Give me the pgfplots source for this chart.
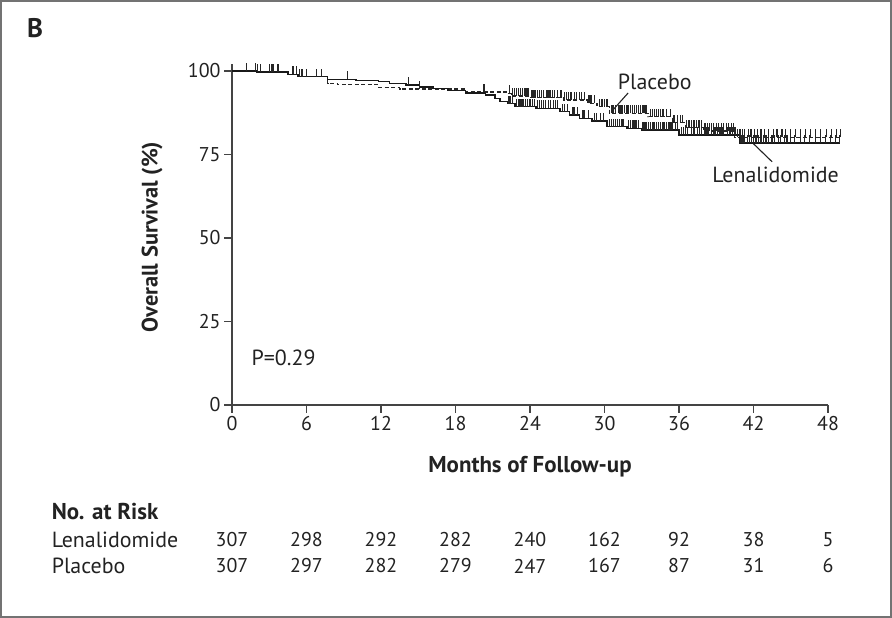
\documentclass[border=0pt]{standalone}
\usepackage{fontspec}
\setmainfont{PT Sans}
\usepackage{pgfplots}
\pgfplotsset{compat=1.18}
\usepackage{pgfplotstable}

\pgfdeclareplotmark{cens}{\pgfpathmoveto{\pgfpointorigin}\pgfpathlineto{\pgfpoint{0pt}{8bp}}\pgfusepathqstroke}

% Kaplan-Meier step points (month, survival %)
\pgfplotstableread{
x y
0 100
2.0 99.7
4.5 99.0
5.3 98.3
7.7 97.5
10.0 97.2
11.8 96.8
12.7 96.3
14.0 95.8
15.1 95.2
16.2 94.7
17.4 94.2
18.8 93.4
20.4 92.8
21.2 91.8
21.6 90.8
22.2 90.2
22.8 89.3
24.5 88.8
26.4 87.8
27.2 86.8
28.0 85.8
29.0 85.0
30.2 83.3
31.8 82.8
33.0 82.3
36.0 80.8
40.9 78.4
49.0 78.4
}\lenaline

\pgfplotstableread{
x y
0 100
2.0 99.7
4.5 99.0
5.3 98.3
7.7 96.3
8.5 95.9
11.8 95.1
13.5 94.6
18.8 93.7
22.3 93.3
22.5 92.5
24.0 92.0
26.7 91.3
28.6 90.3
29.4 89.3
30.4 87.3
33.5 86.3
35.5 84.5
36.5 83.0
38.0 82.0
40.5 80.2
49.0 80.2
}\placline

% censoring ticks
\pgfplotstableread{
x y
1.15 100
1.88 100
2.04 99.7
2.31 99.7
3.04 99.7
3.17 99.7
3.30 99.7
3.70 99.7
4.91 99.0
5.18 99.0
5.45 98.3
5.64 98.3
5.98 98.3
6.79 98.3
7.19 98.3
9.3 97.5
14.2 95.8
22.3 90.2
22.45 90.2
22.6 90.2
22.9 89.3
23.05 89.3
23.2 89.3
23.35 89.3
23.5 89.3
23.65 89.3
23.8 89.3
24.0 89.3
24.2 89.3
24.35 89.3
24.6 88.8
24.75 88.8
24.9 88.8
25.1 88.8
25.25 88.8
25.5 88.8
25.65 88.8
25.9 88.8
26.05 88.8
26.2 88.8
26.6 87.8
26.75 87.8
27.0 87.8
27.4 86.8
27.55 86.8
27.8 86.8
28.2 85.8
28.35 85.8
28.7 85.8
29.2 85.0
29.35 85.0
29.7 85.0
29.9 85.0
30.4 83.3
30.55 83.3
30.7 83.3
30.9 83.3
31.05 83.3
31.2 83.3
31.35 83.3
31.5 83.3
31.95 82.8
32.1 82.8
32.3 82.8
32.45 82.8
32.6 82.8
32.75 82.8
33.1 82.3
33.25 82.3
33.4 82.3
33.55 82.3
33.7 82.3
33.9 82.3
34.05 82.3
34.2 82.3
34.35 82.3
34.5 82.3
34.7 82.3
34.85 82.3
35.0 82.3
35.2 82.3
35.35 82.3
35.5 82.3
35.7 82.3
35.85 82.3
36.2 80.8
36.35 80.8
36.5 80.8
36.7 80.8
37.0 80.8
37.2 80.8
37.5 80.8
37.65 80.8
37.8 80.8
38.1 80.8
38.25 80.8
38.4 80.8
38.6 80.8
38.75 80.8
38.9 80.8
39.1 80.8
39.3 80.8
39.45 80.8
39.6 80.8
39.9 80.8
40.1 80.8
40.3 80.8
40.5 80.8
41.0 78.4
41.15 78.4
41.3 78.4
41.5 78.4
41.7 78.4
41.85 78.4
42.0 78.4
42.2 78.4
42.4 78.4
42.6 78.4
42.8 78.4
43.0 78.4
43.2 78.4
43.5 78.4
43.7 78.4
44.0 78.4
44.2 78.4
44.5 78.4
44.7 78.4
45.0 78.4
45.3 78.4
45.8 78.4
46.1 78.4
46.5 78.4
47.0 78.4
47.4 78.4
47.8 78.4
48.2 78.4
48.6 78.4
48.9 78.4
}\lenacens

\pgfplotstableread{
x y
15.1 94.6
20.3 93.7
22.35 93.3
22.6 92.5
22.75 92.5
22.9 92.5
23.1 92.5
23.25 92.5
23.4 92.5
23.6 92.5
23.75 92.5
23.9 92.5
24.1 92.0
24.25 92.0
24.4 92.0
24.6 92.0
24.75 92.0
24.9 92.0
25.1 92.0
25.3 92.0
25.45 92.0
25.6 92.0
25.8 92.0
26.0 92.0
26.2 92.0
26.5 92.0
26.8 91.3
26.95 91.3
27.1 91.3
27.3 91.3
27.6 91.3
27.75 91.3
28.0 91.3
28.15 91.3
28.4 91.3
28.75 90.3
28.9 90.3
29.2 90.3
29.6 89.3
29.8 89.3
30.0 89.3
30.2 89.3
30.6 87.3
30.75 87.3
30.9 87.3
31.1 87.3
31.25 87.3
31.4 87.3
31.6 87.3
31.75 87.3
31.9 87.3
32.1 87.3
32.25 87.3
32.4 87.3
32.6 87.3
32.75 87.3
32.9 87.3
33.1 87.3
33.25 87.3
33.4 87.3
33.7 86.3
33.85 86.3
34.0 86.3
34.2 86.3
34.35 86.3
34.5 86.3
34.7 86.3
35.0 86.3
35.3 86.3
35.6 84.5
35.9 84.5
36.1 84.5
36.3 84.5
36.6 83.0
36.8 83.0
37.0 83.0
37.2 83.0
37.4 83.0
37.6 83.0
37.8 83.0
38.1 82.0
38.3 82.0
38.45 82.0
38.6 82.0
38.8 82.0
39.0 82.0
39.2 82.0
39.4 82.0
39.6 82.0
39.8 82.0
40.0 82.0
40.2 82.0
40.4 82.0
40.7 80.2
40.9 80.2
41.1 80.2
41.3 80.2
41.6 80.2
41.8 80.2
42.1 80.2
42.3 80.2
42.6 80.2
42.9 80.2
43.2 80.2
43.6 80.2
43.9 80.2
44.3 80.2
44.6 80.2
45.0 80.2
45.4 80.2
45.8 80.2
46.2 80.2
46.6 80.2
47.0 80.2
47.4 80.2
47.9 80.2
48.3 80.2
48.7 80.2
49.0 80.2
}\placcens

\definecolor{ink}{HTML}{222222}
\definecolor{axisgray}{HTML}{444444}

\begin{document}
\begin{tikzpicture}[x=1bp,y=1bp, risk/.style={font=\fontsize{20}{24}\selectfont, text=ink}]
\useasboundingbox (0,0) rectangle (892,618);
\draw[black!55, line width=2.2bp] (1.1,1.1) rectangle (890.9,616.9);
\node[font=\fontsize{27}{30}\selectfont\bfseries, text=ink] at (35,590) {B};
\begin{axis}[
  at={(232bp,213bp)}, anchor=origin,
  scale only axis, width=596bp, height=340.7bp,
  xmin=0, xmax=48, ymin=0, ymax=102,
  axis x line*=bottom, axis y line*=left,
  axis line style={axisgray, line width=1.3bp},
  xtick={0,6,...,48}, ytick={0,25,50,75,100},
  tick align=outside, major tick length=8bp,
  tick style={axisgray, line width=1.2bp},
  ticklabel style={font=\fontsize{20}{24}\selectfont, text=ink},
  /pgf/number format/assume math mode=true,
  clip=false,
  xlabel={Months of Follow-up},
  xlabel style={font=\fontsize{23}{27}\selectfont\bfseries, text=ink, at={(axis description cs:0.5,-0.182)}, anchor=center},
  ylabel={Overall Survival (\%)},
  ylabel style={font=\fontsize{22.5}{26}\selectfont\bfseries, text=ink, at={(axis description cs:-0.134,0.493)}, anchor=center},
]
\addplot[const plot, black!85, line width=1.2bp, dashed, dash pattern=on 4bp off 2.5bp] table {\placline};
\addplot[const plot, black!90, line width=1.5bp] table {\lenaline};
\addplot[only marks, mark=cens, black!85, line width=1.3bp] table {\placcens};
\addplot[only marks, mark=cens, black!85, line width=1.3bp] table {\lenacens};

\node[anchor=west, font=\fontsize{22}{26}\selectfont, text=ink] at (axis cs:1.3,14.1) {P=0.29};
\node[anchor=west, font=\fontsize{22}{26}\selectfont, text=ink] at (axis cs:30.8,96.6) {Placebo};
\draw[ink, line width=1.1bp] (axis cs:31.9,93.4) -- (axis cs:30.6,88.0);
\node[anchor=west, font=\fontsize{22}{26}\selectfont, text=ink] at (axis cs:38.4,68.9) {Lenalidomide};
\draw[ink, line width=1.1bp] (axis cs:42.0,78.2) -- (axis cs:43.5,72.8);

\node[anchor=west, font=\fontsize{23}{27}\selectfont\bfseries, text=ink] at (axis cs:-14.8,-32.0) {No. at Risk};
\node[anchor=west, font=\fontsize{22}{26}\selectfont, text=ink] at (axis cs:-14.8,-40.4) {Lenalidomide};
\node[anchor=west, font=\fontsize{22}{26}\selectfont, text=ink] at (axis cs:-14.8,-48.2) {Placebo};
\node[risk] at (axis cs:0,-40.4) {307};
\node[risk] at (axis cs:6,-40.4) {298};
\node[risk] at (axis cs:12,-40.4) {292};
\node[risk] at (axis cs:18,-40.4) {282};
\node[risk] at (axis cs:24,-40.4) {240};
\node[risk] at (axis cs:30,-40.4) {162};
\node[risk] at (axis cs:36,-40.4) {92};
\node[risk] at (axis cs:42,-40.4) {38};
\node[risk] at (axis cs:48,-40.4) {5};
\node[risk] at (axis cs:0,-48.2) {307};
\node[risk] at (axis cs:6,-48.2) {297};
\node[risk] at (axis cs:12,-48.2) {282};
\node[risk] at (axis cs:18,-48.2) {279};
\node[risk] at (axis cs:24,-48.2) {247};
\node[risk] at (axis cs:30,-48.2) {167};
\node[risk] at (axis cs:36,-48.2) {87};
\node[risk] at (axis cs:42,-48.2) {31};
\node[risk] at (axis cs:48,-48.2) {6};
\end{axis}
\end{tikzpicture}
\end{document}
